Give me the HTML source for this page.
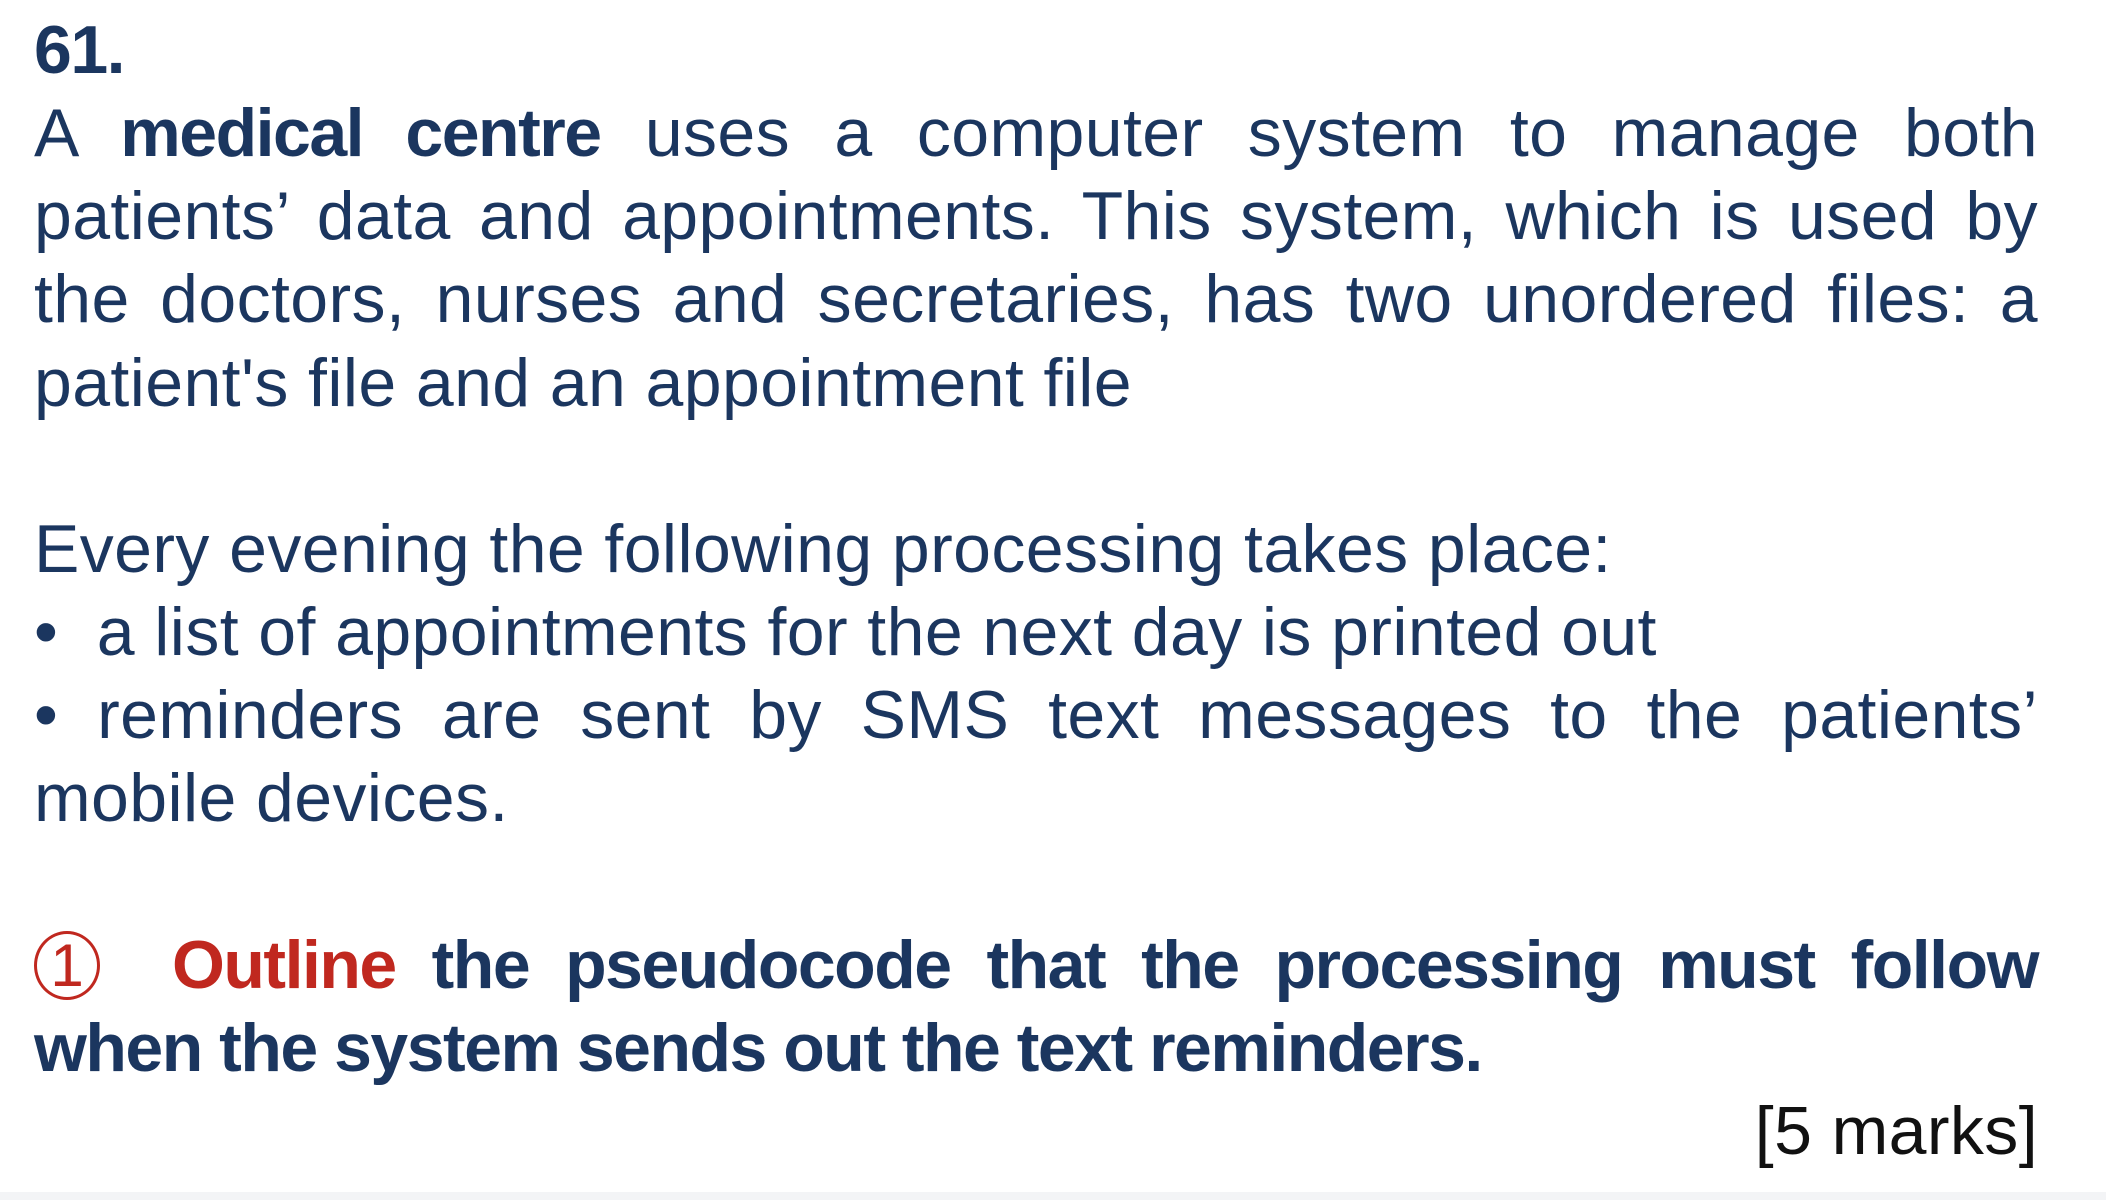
<!DOCTYPE html>
<html><head><meta charset="utf-8"><style>
html,body{margin:0;padding:0;}
body{width:2106px;height:1200px;background:#fff;position:relative;overflow:hidden;font-family:"Liberation Sans",sans-serif;color:#1b365f;}
.l{position:absolute;left:34px;width:2004px;font-size:68px;line-height:83px;white-space:nowrap;letter-spacing:0.4px;}
.j{text-align:justify;text-align-last:justify;white-space:normal;}
b,.bd{font-weight:bold;letter-spacing:-1.5px;}
.red{color:#c0281f;}
#strip{position:absolute;left:0;top:1192px;width:2106px;height:8px;background:#f3f4f6;}
#circ{position:absolute;left:34px;top:931px;width:60px;height:63px;border:3px solid #c0281f;border-radius:50%;color:#c0281f;font-size:60px;line-height:63px;text-align:center;}
</style></head><body>
<div class="l bd" style="top:9px;">61.</div>
<div class="l j" style="top:92px;">A <b>medical centre</b> uses a computer system to manage both</div>
<div class="l j" style="top:175px;">patients’ data and appointments. This system, which is used by</div>
<div class="l j" style="top:258px;">the doctors, nurses and secretaries, has two unordered files: a</div>
<div class="l" style="top:342px;">patient's file and an appointment file</div>
<div class="l" style="top:508px;">Every evening the following processing takes place:</div>
<div class="l" style="top:591px;">•&nbsp; a list of appointments for the next day is printed out</div>
<div class="l j" style="top:674px;">• reminders are sent by SMS text messages to the patients’</div>
<div class="l" style="top:757px;">mobile devices.</div>
<div id="circ">1</div>
<div class="l j bd" style="top:924px;left:172px;width:1866px;"><span class="red">Outline</span> the pseudocode that the processing must follow</div>
<div class="l bd" style="top:1007px;">when the system sends out the text reminders.</div>
<div class="l" style="top:1090px;text-align:right;color:#111;">[5 marks]</div>
<div id="strip"></div>
</body></html>
